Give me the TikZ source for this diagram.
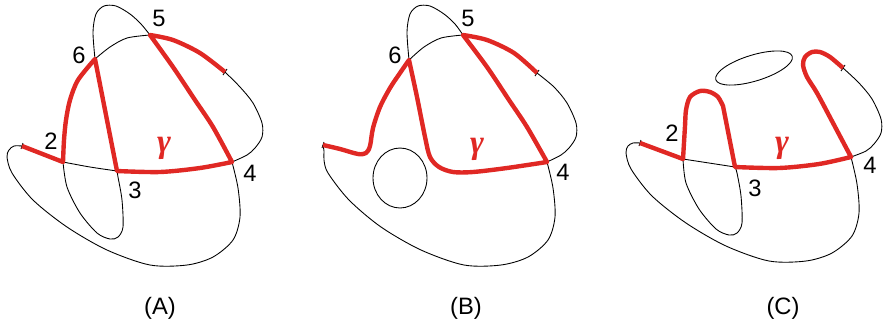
\documentclass[tikz,border=0pt]{standalone}
\usepackage{fontspec}
\setmainfont{Liberation Sans}
\newfontfamily\gamfont{Liberation Serif}
\usepackage{tikz}
\definecolor{gred}{RGB}{224,40,36}

\begin{document}
\begin{tikzpicture}[x=0.02cm, y=-0.02cm,
  strand/.style={line width=0.5pt},
  gam/.style={draw=gred, line width=2.5pt, line join=round},
  num/.style={font=\fontsize{13.5}{15}\selectfont, inner sep=0pt},
  glab/.style={text=gred, font=\gamfont\fontsize{19}{21}\selectfont\bfseries\itshape, inner sep=0pt},
  paneltag/.style={font=\fontsize{13.5}{15}\selectfont, inner sep=0pt}]
\useasboundingbox (0,0) rectangle (884,329);

\coordinate (aL) at (22,146);
\coordinate (a2) at (63,162);
\coordinate (a3) at (117,171);
\coordinate (a4) at (232,162);
\coordinate (a5) at (150,35);
\coordinate (a6) at (95,59);
\coordinate (aR) at (225,72);
\draw[strand] plot[smooth] coordinates {(a2) (90,167) (a3)};
\draw[strand] plot[smooth] coordinates {(a2) (67,187) (80,213) (97,233) (110,239) (118,237) (123,227) (122,200) (118,177) (a3)};
\draw[strand] plot[smooth] coordinates {(a6) (93,32) (96,14) (104,6) (116,6) (130,14) (141,24) (a5)};
\draw[strand] plot[smooth] coordinates {(a6) (110,47) (127,38) (a5)};
\draw[strand] plot[smooth] coordinates {(aR) (240,87) (253,103) (262,123) (262,137) (255,148) (247,155) (a4)};
\draw[strand] plot[smooth] coordinates {(a4) (238,188) (240,217) (233,240) (213,257) (187,265) (150,265) (107,250) (67,227) (33,200) (12,173) (7,157) (9,150) (14,146) (aL)};
\draw[strand] (aL) +(1,-3) -- +(-1,3);
\draw[strand] (aR) +(2,-3) -- +(-2,3);
\draw[gam] (aL) -- (a2) -- plot[smooth] coordinates {(a2) (64,140) (66,120) (70,100) (78,80) (a6)} -- (a3)
  -- plot[smooth] coordinates {(a3) (160,172) (200,168) (a4)}
  -- plot[smooth] coordinates {(a4) (213,127) (195,100) (173,67) (a5)}
  -- plot[smooth] coordinates {(a5) (173,40) (200,53) (aR)};
\node[num] (a5l) at (159,18) {5};
\node[num] (a6l) at (79,55) {6};
\node[num] (a2l) at (51,141) {2};
\node[num] (a3l) at (135,190) {3};
\node[num] (a4l) at (250,173) {4};
\node[glab] (agl) at (164,148) {γ};
\node[paneltag] (atag) at (160,308) {(A)};

\begin{scope}[shift={(314,0)}]
\coordinate (bL) at (9,145);
\coordinate (b4) at (233,162);
\coordinate (b5) at (149,35);
\coordinate (b6) at (95,60);
\coordinate (bR) at (223,73);
\draw[strand] plot[smooth] coordinates {(b6) (93,32) (96,14) (104,6) (116,6) (130,14) (141,24) (b5)};
\draw[strand] plot[smooth] coordinates {(b6) (110,47) (127,38) (b5)};
\draw[strand] plot[smooth] coordinates {(bR) (240,87) (253,103) (262,123) (262,137) (255,148) (247,155) (b4)};
\draw[strand] plot[smooth] coordinates {(b4) (239,188) (241,217) (234,240) (214,257) (187,265) (150,265) (107,250) (67,227) (35,200) (14,173) (10,160) (10,151) (bL)};
\draw[strand] (86,178) ellipse [x radius=0.54cm, y radius=0.6cm];
\draw[strand] (bL) +(1,-3) -- +(-1,3);
\draw[strand] (bR) +(2,-3) -- +(-2,3);
\draw[gam] plot[smooth] coordinates {(bL) (26,149) (44,154) (52,153) (56,146) (59,128) (66,107) (76,88) (86,73) (b6)}
  -- plot[smooth] coordinates {(b6) (103,97) (111,137) (116,157) (125,167) (139,172) (159,172) (193,168) (b4)}
  -- plot[smooth] coordinates {(b4) (213,127) (195,100) (173,67) (b5)}
  -- plot[smooth] coordinates {(b5) (173,40) (200,53) (bR)};
\node[num] (b5l) at (154,18) {5};
\node[num] (b6l) at (81,55) {6};
\node[num] (b4l) at (249,172) {4};
\node[glab] (bgl) at (163,149) {γ};
\node[paneltag] (btag) at (152,308) {(B)};
\end{scope}

\begin{scope}[shift={(619,-4)}]
\coordinate (cL) at (21,147);
\coordinate (c2) at (64,163);
\coordinate (c3) at (116,171);
\coordinate (c4) at (232,161);
\coordinate (cR) at (224,72);
\draw[strand] plot[smooth] coordinates {(c2) (90,167) (c3)};
\draw[strand] plot[smooth] coordinates {(c2) (67,187) (80,213) (97,233) (110,239) (118,237) (123,227) (122,200) (118,177) (c3)};
\draw[strand] plot[smooth] coordinates {(cR) (240,87) (253,103) (262,123) (262,137) (255,148) (247,155) (c4)};
\draw[strand] plot[smooth] coordinates {(c4) (238,188) (240,217) (233,240) (213,257) (187,265) (150,265) (107,250) (67,227) (33,200) (12,173) (7,157) (9,150) (14,147) (cL)};
\draw[strand, rotate around={17:(135,72)}] (135,72) ellipse [x radius=0.8cm, y radius=0.26cm];
\draw[strand] (cL) +(1,-3) -- +(-1,3);
\draw[strand] (cR) +(2,-3) -- +(-2,3);
\draw[gam] (cL) -- (c2) -- plot[smooth] coordinates {(c2) (66,130) (67,114) (71,101) (81,95) (91,96) (99,101) (104,110)} -- (c3)
  -- plot[smooth] coordinates {(c3) (160,172) (200,168) (c4)}
  -- plot[smooth] coordinates {(c4) (214,127) (198,97) (188,81) (184,69) (186,61) (193,56) (201,56) (211,61) (cR)};
\node[num] (c2l) at (53,137) {2};
\node[num] (c3l) at (136,192) {3};
\node[num] (c4l) at (251,169) {4};
\node[glab] (cgl) at (163,152) {γ};
\node[paneltag] (ctag) at (164,312) {(C)};
\end{scope}
\end{tikzpicture}
\end{document}
